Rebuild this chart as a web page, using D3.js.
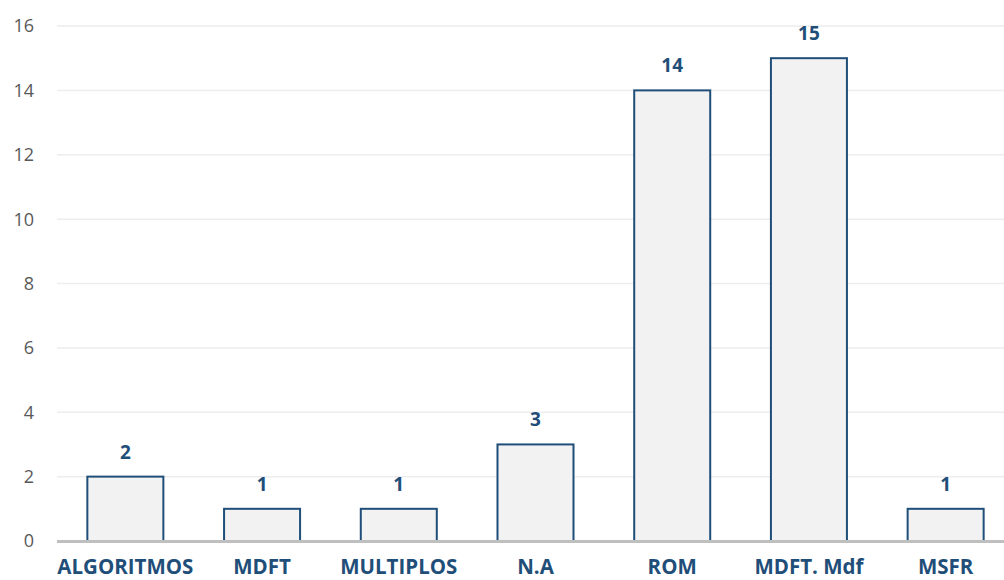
<!DOCTYPE html>
<html>
<head>
<meta charset="utf-8">
<script src="https://cdn.jsdelivr.net/npm/d3@7"></script>
<style>
  html, body { margin: 0; padding: 0; background: #ffffff; }
  svg { display: block; }
</style>
</head>
<body>
<svg id="chart" width="1004" height="580"></svg>
<script>
// Method counts per category
const categories = ["ALGORITMOS", "MDFT", "MULTIPLOS", "N.A", "ROM", "MDFT. Mdf", "MSFR"];
const counts = [2, 1, 1, 3, 14, 15, 1];
const yTicks = [0, 2, 4, 6, 8, 10, 12, 14, 16];

const svg = d3.select("#chart");
const plotLeft = 57, plotRight = 1014, plotTop = 26, plotBottom = 541;

const x = d3.scaleBand()
  .domain(categories)
  .range([plotLeft, plotRight])
  .paddingInner(0.444)
  .paddingOuter(0.222);

const y = d3.scaleLinear().domain([0, 16]).range([plotBottom, plotTop]);

// horizontal gridlines
svg.append("g")
  .selectAll("line")
  .data(yTicks.filter(t => t > 0))
  .join("line")
  .attr("x1", plotLeft).attr("x2", 1004)
  .attr("y1", d => y(d)).attr("y2", d => y(d))
  .attr("stroke", "#ededed")
  .attr("stroke-width", 1.5);

// y tick labels
svg.append("g")
  .selectAll("text")
  .data(yTicks)
  .join("text")
  .attr("x", 34)
  .attr("y", d => y(d))
  .attr("dy", "0.36em")
  .attr("text-anchor", "end")
  .attr("font-family", "'Open Sans', sans-serif")
  .attr("font-size", 18)
  .attr("fill", "#595959")
  .text(d => d);

// bars
svg.append("g")
  .selectAll("rect")
  .data(categories)
  .join("rect")
  .attr("x", d => x(d))
  .attr("width", x.bandwidth())
  .attr("y", (d, i) => y(counts[i]))
  .attr("height", (d, i) => y(0) - y(counts[i]))
  .attr("fill", "#f2f2f2")
  .attr("stroke", "#1f4e79")
  .attr("stroke-width", 2);

// baseline
svg.append("line")
  .attr("x1", plotLeft).attr("x2", 1004)
  .attr("y1", y(0) + 0.5).attr("y2", y(0) + 0.5)
  .attr("stroke", "#bfbfbf")
  .attr("stroke-width", 3);

// value labels
svg.append("g")
  .selectAll("text")
  .data(categories)
  .join("text")
  .attr("x", d => x(d) + x.bandwidth() / 2)
  .attr("y", (d, i) => y(counts[i]) - 18)
  .attr("text-anchor", "middle")
  .attr("font-family", "'Open Sans', sans-serif")
  .attr("font-weight", "bold")
  .attr("font-size", 19)
  .attr("fill", "#1f4e79")
  .text((d, i) => counts[i]);

// category labels
svg.append("g")
  .selectAll("text")
  .data(categories)
  .join("text")
  .attr("x", d => x(d) + x.bandwidth() / 2)
  .attr("y", 574)
  .attr("text-anchor", "middle")
  .attr("font-family", "'Open Sans', sans-serif")
  .attr("font-weight", "bold")
  .attr("font-size", 20.5)
  .attr("fill", "#1f4e79")
  .text(d => d);
</script>
</body>
</html>
